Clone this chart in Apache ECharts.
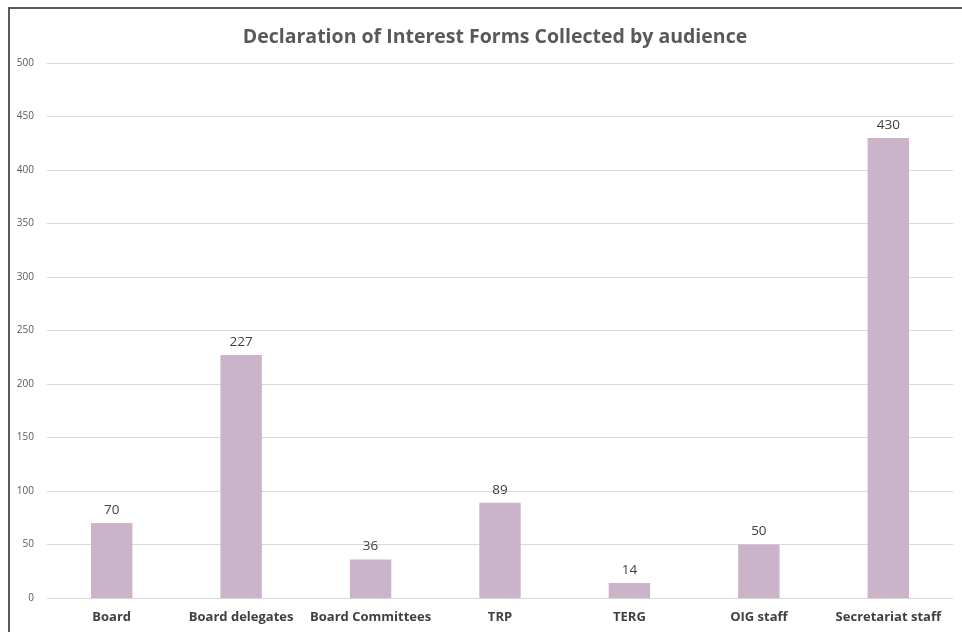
<!DOCTYPE html>
<html>
<head>
<meta charset="utf-8">
<script src="https://cdn.jsdelivr.net/npm/echarts@6/dist/echarts.min.js"></script>
<style>
    html, body { margin: 0; padding: 0; background: #fff; }
    #frame {
        position: absolute; left: 0; top: 0; width: 962px; height: 632px;
        overflow: hidden;
    }
    #chart {
        position: absolute; left: 0; top: 0; width: 962px; height: 632px;
    }
    #edge {
        position: absolute; left: 8px; top: 7px; width: 960px; height: 640px;
        border-top: 2px solid #595959; border-left: 2px solid #595959;
        pointer-events: none;
    }
</style>
</head>
<body>
<div id="frame">
    <div id="chart"></div>
    <div id="edge"></div>
</div>
<script>
var categories = ["Board", "Board delegates", "Board Committees", "TRP", "TERG", "OIG staff", "Secretariat staff"];
var forms = [70, 227, 36, 89, 14, 50, 430];

var chart = echarts.init(document.getElementById("chart"));
var FONT = "'Open Sans', 'Noto Sans', sans-serif";

chart.setOption({
    animation: false,
    title: {
        text: "Declaration of Interest Forms Collected by audience",
        left: 490,
        textAlign: "center",
        top: 22,
        textStyle: {
            fontFamily: FONT,
            fontSize: 19.5,
            fontWeight: "bold",
            color: "#595959"
        }
    },
    grid: {
        left: 47,
        right: 9,
        top: 63,
        bottom: 34
    },
    xAxis: {
        type: "category",
        data: categories,
        axisLine: { lineStyle: { color: "#d9d9d9" } },
        axisTick: { show: false },
        axisLabel: {
            interval: 0,
            margin: 13,
            fontFamily: FONT,
            fontSize: 13,
            fontWeight: "bold",
            color: "#404040"
        }
    },
    yAxis: {
        type: "value",
        min: 0,
        max: 500,
        interval: 50,
        axisLine: { show: false },
        axisTick: { show: false },
        splitLine: { lineStyle: { color: "#d9d9d9" } },
        axisLabel: {
            margin: 13,
            fontFamily: FONT,
            fontSize: 10,
            color: "#595959"
        }
    },
    series: [{
        type: "bar",
        data: forms,
        barWidth: "32%",
        itemStyle: { color: "#cbb3ca" },
        label: {
            show: true,
            position: "top",
            distance: 6,
            fontFamily: FONT,
            fontSize: 13.5,
            color: "#404040"
        }
    }]
});
</script>
</body>
</html>
